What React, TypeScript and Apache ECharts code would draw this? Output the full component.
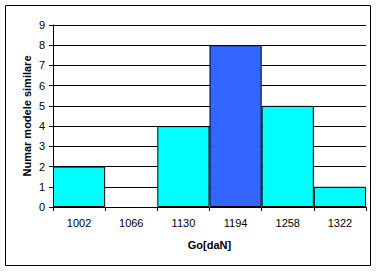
import React, { useEffect, useRef } from "react";
import * as echarts from "echarts";

const categories = ["1002", "1066", "1130", "1194", "1258", "1322"];
const counts = [2, 0, 4, 8, 5, 1];
const highlightIndex = 3;
const yTicksMax = 9;

export default function App() {
  const ref = useRef<HTMLDivElement>(null);
  useEffect(() => {
    if (!ref.current) return;
    const chart = echarts.init(ref.current, undefined, { renderer: "svg" });
    const font = "'Liberation Sans', Arial, sans-serif";
    chart.setOption({
      animation: false,
      backgroundColor: "#ffffff",
      textStyle: { fontFamily: font },
      graphic: [
        {
          type: "rect",
          shape: { x: 5.5, y: 5.5, width: 365, height: 260 },
          style: { fill: "none", stroke: "#000", lineWidth: 1 },
          z: 0,
        },
      ],
      grid: { left: 53, top: 25, right: 16, bottom: 65 },
      xAxis: {
        type: "category",
        data: categories,
        name: "Go[daN]",
        nameLocation: "middle",
        nameGap: 32,
        nameMoveOverlap: false,
        nameTextStyle: { fontWeight: "bold", fontSize: 11, color: "#000", fontFamily: font },
        axisLine: { lineStyle: { color: "#000", width: 1 } },
        axisTick: { show: true, length: 4, lineStyle: { color: "#000" } },
        axisLabel: { color: "#000", fontSize: 11, margin: 10, fontFamily: font },
      },
      yAxis: {
        type: "value",
        min: 0,
        max: yTicksMax,
        interval: 1,
        name: "Numar modele similare",
        nameLocation: "middle",
        nameGap: 21,
        nameMoveOverlap: false,
        nameTextStyle: { fontWeight: "bold", fontSize: 11, color: "#000", fontFamily: font },
        axisLine: { show: true, lineStyle: { color: "#000", width: 1 } },
        axisTick: { show: true, length: 4, lineStyle: { color: "#000" } },
        axisLabel: { color: "#000", fontSize: 11, margin: 8, fontFamily: font },
        splitLine: { show: true, lineStyle: { color: "#000", width: 1 } },
      },
      series: [
        {
          type: "bar",
          barCategoryGap: "0%",
          data: counts.map((v, i) => ({
            value: v,
            itemStyle: {
              color: i === highlightIndex ? "#3366FF" : "#00FFFF",
              borderColor: "#000",
              borderWidth: v === 0 ? 0 : 1,
            },
          })),
        },
      ],
    });
    return () => chart.dispose();
  }, []);
  return (
    <div
      ref={ref}
      style={{ position: "fixed", left: 0, top: 0, width: 382, height: 272 }}
    />
  );
}
